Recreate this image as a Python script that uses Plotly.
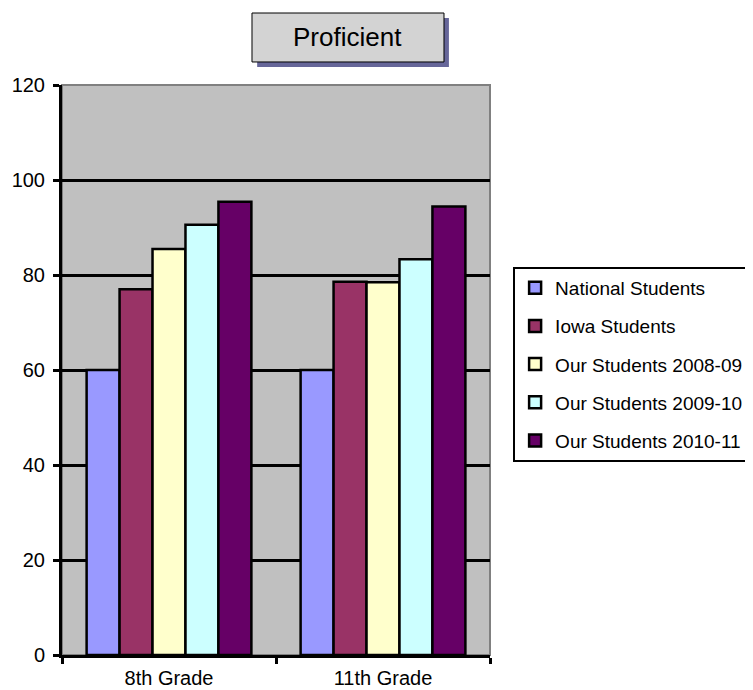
import plotly.graph_objects as go

categories = ["8th Grade", "11th Grade"]
series_names = ["National Students", "Iowa Students", "Our Students 2008-09",
                "Our Students 2009-10", "Our Students 2010-11"]
national = [60, 60]
iowa = [77, 78.6]
our_0809 = [85.5, 78.5]
our_0910 = [90.6, 83.3]
our_1011 = [95.4, 94.4]
series_values = [national, iowa, our_0809, our_0910, our_1011]
colors = ["#9999FF", "#993366", "#FFFFCC", "#CCFFFF", "#660066"]
y_ticks = [0, 20, 40, 60, 80, 100, 120]

FONT = "Liberation Sans, Arial, sans-serif"

fig = go.Figure()
for i, (name, vals, col) in enumerate(zip(series_names, series_values, colors)):
    fig.add_trace(go.Bar(
        x=categories, y=vals, name=name, legendgroup=f"g{i}",
        marker=dict(color=col, line=dict(color="black", width=2.5)),
    ))

fig.update_layout(
    width=745, height=682,
    margin=dict(l=54, r=263, t=77, b=35, autoexpand=False),
    paper_bgcolor="white",
    plot_bgcolor="#C0C0C0",
    barmode="group",
    bargap=0.23, bargroupgap=0,
    font=dict(family=FONT, size=20, color="black"),
    showlegend=True,
    legend=dict(
        x=1.054, y=0.681, xanchor="left", yanchor="top",
        bordercolor="black", borderwidth=2, bgcolor="white",
        font=dict(size=19), tracegroupgap=10.5,
        itemclick=False,
    ),
    xaxis=dict(
        showline=True, linecolor="black", linewidth=3, automargin=False,
        ticks="outside", tickson="boundaries", ticklen=6, tickwidth=3, tickcolor="black",
        showgrid=False, ticklabelstandoff=3,
    ),
    yaxis=dict(
        range=[0, 120], tickvals=y_ticks, automargin=False,
        showline=True, linecolor="black", linewidth=3,
        ticks="outside", ticklen=6, tickwidth=3, tickcolor="black",
        showgrid=True, gridcolor="black", gridwidth=2.5, zeroline=False,
        ticklabelstandoff=4,
    ),
    shapes=[
        dict(type="rect", xref="paper", yref="paper", x0=0, x1=1, y0=0, y1=1,
             line=dict(color="#808080", width=2), layer="below"),
        dict(type="rect", xref="paper", yref="paper", x0=0.456, x1=0.904, y0=1.0316, y1=1.1175,
             fillcolor="#666699", line=dict(width=0)),
        dict(type="rect", xref="paper", yref="paper", x0=0.4439, x1=0.8925, y0=1.0404, y1=1.1263,
             fillcolor="#D3D3D3", line=dict(color="black", width=1)),
    ],
    annotations=[
        dict(text="Proficient", xref="paper", yref="paper", x=0.668, y=1.0834,
             xanchor="center", yanchor="middle", showarrow=False,
             font=dict(family=FONT, size=26, color="black")),
    ],
)

fig.write_html("out.html")
